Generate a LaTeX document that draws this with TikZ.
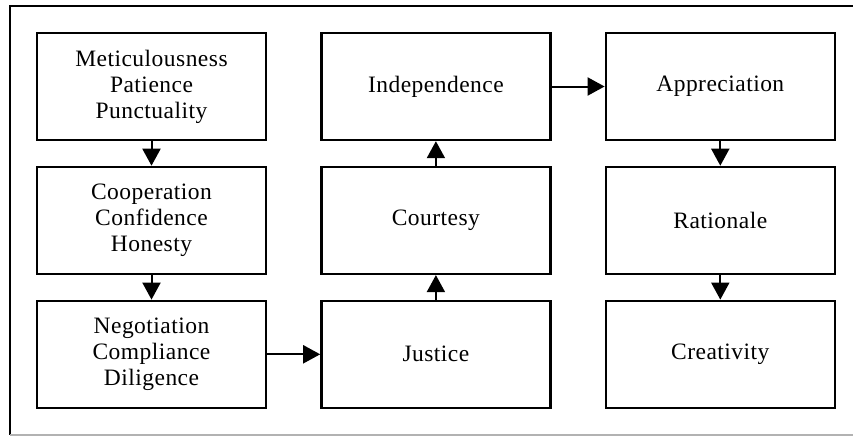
\documentclass[tikz,border=0pt]{standalone}
\usepackage{fontspec}
\setmainfont{Liberation Serif}[LetterSpace=2]
\usetikzlibrary{arrows.meta,positioning}

\begin{document}
\begin{tikzpicture}[
  x=1pt,y=-1pt,
  font=\fontsize{23.5}{26}\selectfont,>={Triangle[length=17pt,width=18pt]},
  val/.style={draw=black, line width=2.4pt, fill=white, align=center, minimum width=229pt, minimum height=107pt, inner sep=0pt},
  flow/.style={->, line width=2pt},
]
\useasboundingbox (0,0) rectangle (853,436);
% outer frame, cut at the right
\draw[line width=1.8pt] (860,6) -- (10,6) -- (10,435);
\draw[line width=1.4pt, draw=black!30] (10,435) -- (860,435);
% first column
\node[val] (met) at (151.5,86.5) {Meticulousness\\Patience\\Punctuality};
\node[val, below=24.5pt of met] (coop) {Cooperation\\Confidence\\Honesty};
\node[val, below=24.5pt of coop] (neg) {Negotiation\\Compliance\\Diligence};
% second column
\node[val, right=53pt of neg] (just) {Justice};
\node[val, above=24.5pt of just] (court) {Courtesy};
\node[val, above=24.5pt of court] (indep) {Independence};
% third column
\node[val, right=53pt of indep] (appr) {Appreciation};
\node[val, below=24.5pt of appr] (rat) {Rationale};
\node[val, below=24.5pt of rat] (creat) {Creativity};
% arrows
\draw[flow] (met) -- (coop);
\draw[flow] (coop) -- (neg);
\draw[flow] (neg) -- (just);
\draw[flow] (just) -- (court);
\draw[flow] (court) -- (indep);
\draw[flow] (indep) -- (appr);
\draw[flow] (appr) -- (rat);
\draw[flow] (rat) -- (creat);
\end{tikzpicture}
\end{document}
